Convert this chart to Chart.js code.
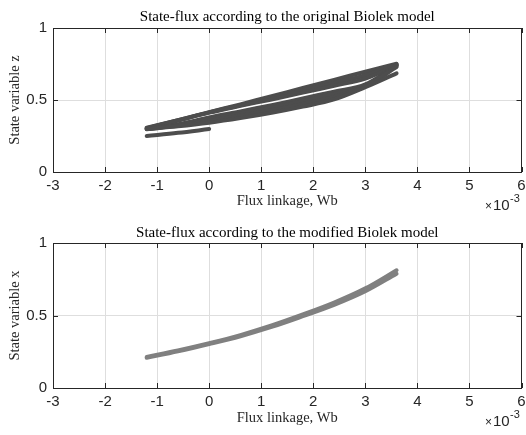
<!DOCTYPE html>
<html>
<head>
<meta charset="utf-8">
<script src="https://cdn.jsdelivr.net/npm/chart.js@4.4.1/dist/chart.umd.min.js"></script>
<style>
  body { margin: 0; background: #fff; }
  canvas { position: absolute; left: 0; }
  #topChart { top: 0; }
  #bottomChart { top: 220px; }
</style>
</head>
<body>
<canvas id="topChart" width="526" height="220"></canvas>
<canvas id="bottomChart" width="526" height="215"></canvas>
<script>
// flux in units of 1e-3 Wb
const fluxTicks = [-3, -2, -1, 0, 1, 2, 3, 4, 5, 6];
const stateTicks = [0, 0.5, 1];
const fluxGrid = [-1.2, -0.6, 0, 0.6, 1.2, 1.8, 2.4, 3.0, 3.6];

// original Biolek model: first swing, then rising and falling branches of the loops
const startFlux = [0, -0.6, -1.2];
const startZ = [0.298, 0.272, 0.25];
const zRise1 = [0.297, 0.317, 0.342, 0.374, 0.411, 0.454, 0.504, 0.589, 0.685];
const zRise2 = [0.298, 0.322, 0.354, 0.390, 0.429, 0.473, 0.522, 0.595, 0.728];
const zRise3 = [0.299, 0.326, 0.367, 0.405, 0.446, 0.492, 0.540, 0.602, 0.735];
const zRise4 = [0.300, 0.331, 0.379, 0.421, 0.464, 0.511, 0.558, 0.608, 0.742];
const zFall1 = [0.303, 0.357, 0.412, 0.459, 0.504, 0.551, 0.599, 0.649, 0.742];
const zFall2 = [0.305, 0.359, 0.414, 0.464, 0.515, 0.567, 0.619, 0.672, 0.748];
const zFall3 = [0.307, 0.360, 0.416, 0.470, 0.527, 0.583, 0.640, 0.696, 0.752];

// modified Biolek model
const xModA = [0.208, 0.253, 0.303, 0.357, 0.421, 0.495, 0.573, 0.667, 0.788];
const xModB = [0.214, 0.259, 0.309, 0.365, 0.431, 0.507, 0.589, 0.687, 0.812];

const axisColor = '#262626';
const gridColor = '#dedede';

function pts(xs, ys) {
  return xs.map((x, i) => ({ x: x, y: ys[i] }));
}

function lineSet(xs, ys, color, width) {
  return {
    data: pts(xs, ys),
    showLine: true,
    borderColor: color,
    borderWidth: width,
    pointRadius: 0,
    tension: 0.35,
    borderCapStyle: 'round',
    borderJoinStyle: 'round'
  };
}

// MATLAB style box, inward ticks and the x10^-3 multiplier
const matlabBox = {
  id: 'matlabBox',
  afterDraw(chart) {
    const ctx = chart.ctx;
    const a = chart.chartArea;
    const xs = chart.scales.x, ys = chart.scales.y;
    ctx.save();
    ctx.strokeStyle = axisColor;
    ctx.lineWidth = 1;
    ctx.beginPath();
    fluxTicks.forEach(v => {
      const px = Math.round(xs.getPixelForValue(v)) + 0.5;
      ctx.moveTo(px, a.bottom); ctx.lineTo(px, a.bottom - 5);
      ctx.moveTo(px, a.top); ctx.lineTo(px, a.top + 5);
    });
    stateTicks.forEach(v => {
      const py = Math.round(ys.getPixelForValue(v)) + 0.5;
      ctx.moveTo(a.left, py); ctx.lineTo(a.left + 5, py);
      ctx.moveTo(a.right, py); ctx.lineTo(a.right - 5, py);
    });
    ctx.stroke();
    ctx.strokeRect(Math.round(a.left) + 0.5, Math.round(a.top) + 0.5,
      Math.round(a.right - a.left) - 1, Math.round(a.bottom - a.top));
    ctx.fillStyle = axisColor;
    ctx.textBaseline = 'alphabetic';
    ctx.textAlign = 'left';
    const base = a.bottom + 38;
    ctx.font = '12px "Liberation Sans"';
    ctx.fillText('\u00d7', 485, base);
    ctx.font = '15px "Liberation Sans"';
    ctx.fillText('10', 493, base);
    ctx.font = '11px "Liberation Sans"';
    ctx.fillText('-3', 510, base - 8);
    ctx.restore();
  }
};

function makeOptions(titleText, yLabel, pad, axisHeight, xTitlePad) {
  return {
    responsive: false,
    animation: false,
    layout: { padding: { left: 0, right: 0.5, top: 0, bottom: 0 } },
    plugins: {
      legend: { display: false },
      tooltip: { enabled: false },
      title: {
        display: true,
        fullSize: false,
        text: titleText,
        color: '#000',
        font: { family: '"Liberation Serif"', size: 15, weight: 'normal', lineHeight: 1.2 },
        padding: pad
      }
    },
    scales: {
      x: {
        type: 'linear',
        min: -3,
        max: 6,
        afterBuildTicks: s => { s.ticks = fluxTicks.map(v => ({ value: v })); },
        afterFit: s => { s.height = axisHeight; s.paddingRight = 4.5; },
        grid: { color: gridColor, drawTicks: false },
        border: { display: false },
        ticks: {
          color: axisColor,
          padding: 5,
          font: { family: '"Liberation Sans"', size: 15 },
          callback: v => String(v)
        },
        title: {
          display: true,
          text: 'Flux linkage, Wb',
          color: axisColor,
          font: { family: '"Liberation Serif"', size: 14.5, lineHeight: 1.2 },
          padding: { top: 0, bottom: xTitlePad }
        }
      },
      y: {
        min: 0,
        max: 1,
        afterBuildTicks: s => { s.ticks = stateTicks.map(v => ({ value: v })); },
        afterFit: s => { s.width = 53; },
        grid: { color: gridColor, drawTicks: false },
        border: { display: false },
        ticks: {
          color: axisColor,
          padding: 6,
          font: { family: '"Liberation Sans"', size: 15 },
          callback: v => String(v)
        },
        title: {
          display: true,
          text: yLabel,
          color: axisColor,
          font: { family: '"Liberation Serif"', size: 14.5, lineHeight: 1.2 },
          padding: { top: 6, bottom: 0 }
        }
      }
    }
  };
}

const topColor = '#4d4d4d';
new Chart(document.getElementById('topChart'), {
  type: 'scatter',
  data: {
    datasets: [
      lineSet(startFlux, startZ, topColor, 4),
      lineSet(fluxGrid, zRise1, topColor, 4),
      lineSet(fluxGrid, zRise2, topColor, 4),
      lineSet(fluxGrid, zRise3, topColor, 4),
      lineSet(fluxGrid, zRise4, topColor, 4),
      lineSet(fluxGrid, zFall1, topColor, 4),
      lineSet(fluxGrid, zFall2, topColor, 4),
      lineSet(fluxGrid, zFall3, topColor, 4)
    ]
  },
  options: makeOptions('State-flux according to the original Biolek model',
    'State variable z', { top: 8, bottom: 2 }, 48, 10),
  plugins: [matlabBox]
});

const bottomColor = '#808080';
new Chart(document.getElementById('bottomChart'), {
  type: 'scatter',
  data: {
    datasets: [
      lineSet(fluxGrid, xModA, bottomColor, 4),
      lineSet(fluxGrid, xModB, bottomColor, 4)
    ]
  },
  options: makeOptions('State-flux according to the modified Biolek model',
    'State variable x', { top: 4, bottom: 1 }, 47, 8.5),
  plugins: [matlabBox]
});
</script>
</body>
</html>
